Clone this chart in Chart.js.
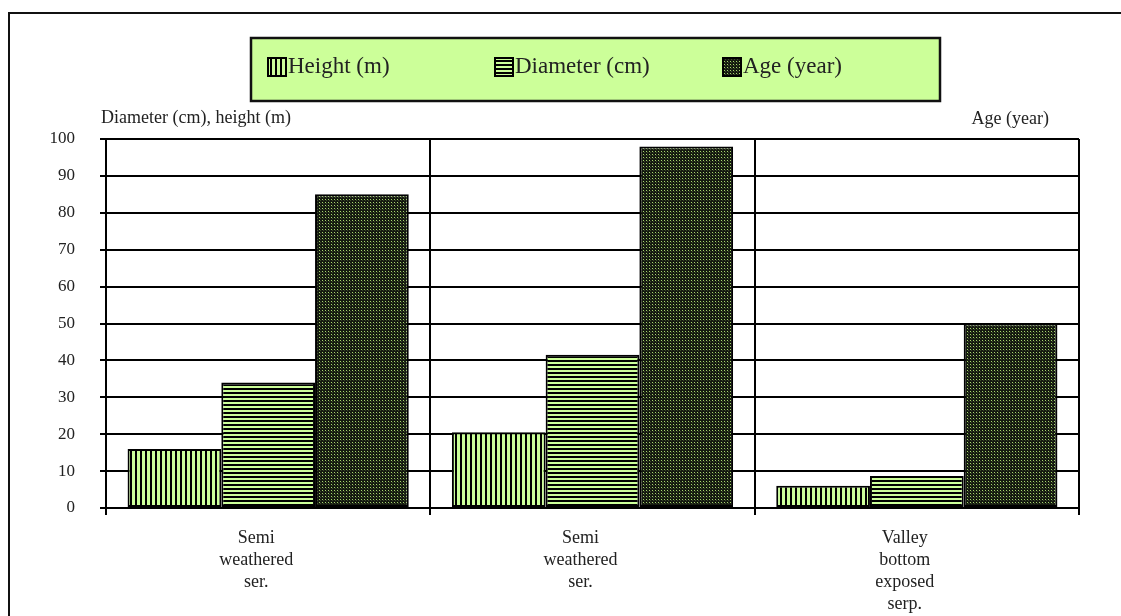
<!DOCTYPE html>
<html>
<head>
<meta charset="utf-8">
<script src="https://cdn.jsdelivr.net/npm/chart.js@4/dist/chart.umd.min.js"></script>
<style>
html,body{margin:0;padding:0;background:#fff;}
#c{display:block;}
</style>
</head>
<body>
<canvas id="c" width="1121" height="616"></canvas>
<script>
const categories = [
  ["Semi", "weathered", "ser."],
  ["Semi", "weathered", "ser."],
  ["Valley", "bottom", "exposed", "serp."]
];
const seriesNames = ["Height (m)", "Diameter (cm)", "Age (year)"];
const heightValues = [16, 20.5, 6];
const diameterValues = [34, 41.5, 8.7];
const ageValues = [85, 98, 50];
const yTicks = [0, 10, 20, 30, 40, 50, 60, 70, 80, 90, 100];
const leftAxisTitle = "Diameter (cm), height (m)";
const rightAxisTitle = "Age (year)";

const GREEN = "#ccff99";
const SERIF = "'Liberation Serif', 'DejaVu Serif', serif";

function makePattern(w, h, draw) {
  const t = document.createElement("canvas");
  t.width = w; t.height = h;
  const g = t.getContext("2d");
  draw(g);
  return document.getElementById("c").getContext("2d").createPattern(t, "repeat");
}
const vStripes = makePattern(5, 1, g => {
  g.fillStyle = "#000"; g.fillRect(0, 0, 5, 1);
  g.fillStyle = GREEN; g.fillRect(2, 0, 3, 1);
});
const hStripes = makePattern(1, 4, g => {
  g.fillStyle = "#000"; g.fillRect(0, 0, 1, 4);
  g.fillStyle = GREEN; g.fillRect(0, 2, 1, 2);
});
const dots = makePattern(3, 3, g => {
  g.fillStyle = "#151a10"; g.fillRect(0, 0, 3, 3);
  g.fillStyle = "#a6d46e"; g.fillRect(1, 1, 1, 1);
  g.fillStyle = "#3c4a2a"; g.fillRect(2, 2, 1, 1);
});
const patterns = [vStripes, hStripes, dots];

const decorPlugin = {
  id: "decor",
  beforeDraw(chart) {
    const ctx = chart.ctx;
    ctx.save();
    ctx.fillStyle = "#fff";
    ctx.fillRect(0, 0, chart.width, chart.height);
    ctx.strokeStyle = "#111";
    ctx.lineWidth = 2;
    ctx.beginPath();
    ctx.moveTo(9, chart.height + 2);
    ctx.lineTo(9, 13);
    ctx.lineTo(chart.width + 2, 13);
    ctx.stroke();
    ctx.restore();
  },
  afterDraw(chart) {
    const ctx = chart.ctx;
    ctx.save();
    ctx.fillStyle = GREEN;
    ctx.fillRect(251, 38, 689, 63);
    ctx.strokeStyle = "#111";
    ctx.lineWidth = 2.5;
    ctx.strokeRect(251, 38, 689, 63);
    const xs = [268, 495, 723];
    ctx.font = "23px " + SERIF;
    ctx.textBaseline = "middle";
    ctx.textAlign = "left";
    chart.data.datasets.forEach((ds, i) => {
      ctx.fillStyle = ds.backgroundColor;
      ctx.fillRect(xs[i], 58, 18, 18);
      ctx.strokeStyle = "#000";
      ctx.lineWidth = 2;
      ctx.strokeRect(xs[i], 58, 18, 18);
      ctx.fillStyle = "#222";
      ctx.fillText(ds.label, xs[i] + 20, 67);
    });
    ctx.font = "18px " + SERIF;
    ctx.fillStyle = "#222";
    ctx.textAlign = "left";
    ctx.fillText(leftAxisTitle, 101, 118);
    ctx.textAlign = "right";
    ctx.fillText(rightAxisTitle, 1049, 119);
    ctx.restore();
  }
};

new Chart(document.getElementById("c"), {
  type: "bar",
  data: {
    labels: categories,
    datasets: [
      { label: seriesNames[0], data: heightValues, backgroundColor: patterns[0] },
      { label: seriesNames[1], data: diameterValues, backgroundColor: patterns[1] },
      { label: seriesNames[2], data: ageValues, backgroundColor: patterns[2] }
    ].map(d => Object.assign(d, { borderColor: "#000", borderWidth: 2, borderSkipped: false }))
  },
  options: {
    responsive: false,
    animation: false,
    devicePixelRatio: 1,
    layout: { padding: { top: 139, right: 42, left: 0, bottom: 0 } },
    datasets: { bar: { categoryPercentage: 0.867, barPercentage: 1.0 } },
    plugins: { legend: { display: false }, tooltip: { enabled: false }, title: { display: false } },
    scales: {
      x: {
        afterFit(s) { s.height = 108; },
        grid: { display: true, offset: true, color: "#000", lineWidth: 2, tickLength: 7, drawOnChartArea: true },
        border: { display: true, color: "#000", width: 2 },
        ticks: { color: "#222", font: { family: SERIF, size: 18, lineHeight: 1.22 }, padding: 12, labelOffset: -12, maxRotation: 0, autoSkip: false }
      },
      y: {
        min: 0, max: 100,
        afterFit(s) { s.width = 106; },
        afterBuildTicks(s) { s.ticks = yTicks.map(v => ({ value: v })); },
        grid: { color: "#000", lineWidth: 2, tickLength: 6 },
        border: { display: true, color: "#000", width: 2 },
        ticks: { color: "#222", font: { family: SERIF, size: 17 }, padding: 25 }
      }
    }
  },
  plugins: [decorPlugin]
});
</script>
</body>
</html>
